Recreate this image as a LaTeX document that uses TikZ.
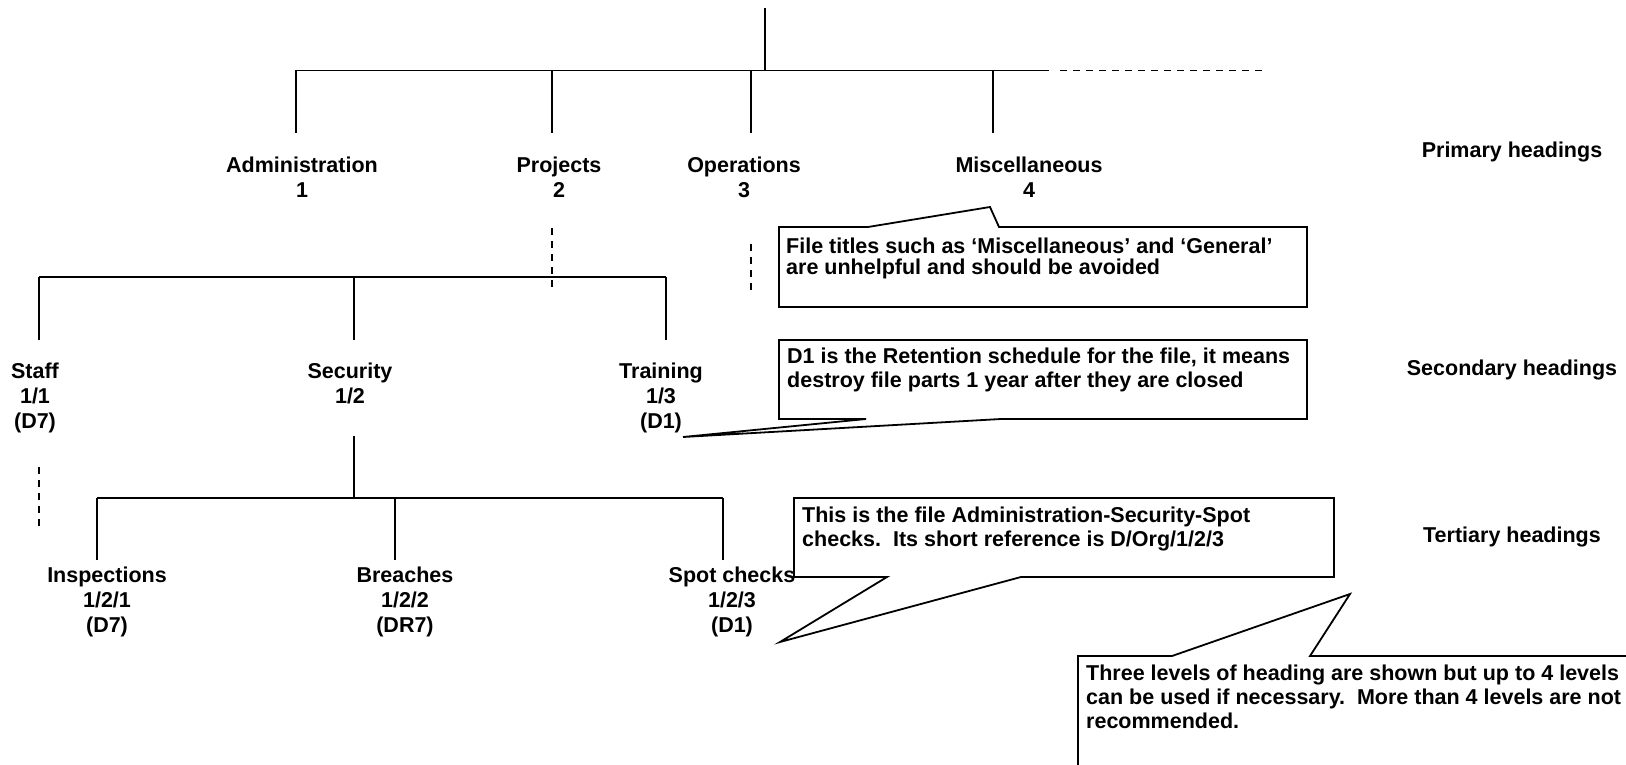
\documentclass[tikz,border=0pt]{standalone}
\usepackage{fontspec}
\setmainfont{Liberation Sans}
\begin{document}
\begin{tikzpicture}[x=1pt,y=-1pt,
  tree/.style={line width=1.4pt},
  dashtree/.style={line width=1.4pt, dash pattern=on 7pt off 6pt},
  lbl/.style={font=\fontsize{21.5}{25}\selectfont\bfseries, align=center, inner sep=0pt, anchor=base},
  note/.style={font=\fontsize{21.5}{24.5}\selectfont\bfseries, align=left, inner sep=0pt, anchor=base west},
  callout/.style={draw, line width=1.8pt, fill=white, line join=miter}]
\useasboundingbox (0,0) rectangle (1626,765);

% ---------- tree junctions ----------
\coordinate (root) at (765,8);
\coordinate (rootj) at (765,70.5);
\coordinate (p1) at (296,70.5);
\coordinate (p2) at (552,70.5);
\coordinate (p3) at (751,70.5);
\coordinate (p4) at (993,70.5);
\coordinate (pend) at (1049,70.5);
\coordinate (pd1) at (1060,70.5);
\coordinate (pd2) at (1263,70.5);
\coordinate (p1b) at (296,133);
\coordinate (p2b) at (552,133);
\coordinate (p3b) at (751,133);
\coordinate (p4b) at (993,133);
\coordinate (p2d1) at (552,228);
\coordinate (p2d2) at (552,292);
\coordinate (p3d1) at (751,244);
\coordinate (p3d2) at (751,292);

\coordinate (s1) at (39,277);
\coordinate (s2) at (354,277);
\coordinate (s3) at (666,277);
\coordinate (s1b) at (39,340);
\coordinate (s2b) at (354,340);
\coordinate (s3b) at (666,340);
\coordinate (s1d1) at (39,467);
\coordinate (s1d2) at (39,529);
\coordinate (s2t) at (354,436);

\coordinate (t1) at (97,498);
\coordinate (t2) at (395,498);
\coordinate (t3) at (723,498);
\coordinate (t1b) at (97,560);
\coordinate (t2b) at (395,560);
\coordinate (t3b) at (723,560);

% ---------- tree lines ----------
\draw[tree] (root) -- (rootj);
\draw[tree] (p1) -- (pend);
\draw[dashtree] (pd1) -- (pd2);
\draw[tree] (p1) -- (p1b);
\draw[tree] (p2) -- (p2b);
\draw[tree] (p3) -- (p3b);
\draw[tree] (p4) -- (p4b);
\draw[dashtree] (p2d1) -- (p2d2);
\draw[dashtree] (p3d1) -- (p3d2);

\draw[tree] (s1) -- (s3);
\draw[tree] (s1) -- (s1b);
\draw[tree] (s2) -- (s2b);
\draw[tree] (s3) -- (s3b);
\draw[dashtree] (s1d1) -- (s1d2);
\draw[tree] (s2t) -- (t2 -| s2t);

\draw[tree] (t1) -- (t3);
\draw[tree] (t1) -- (t1b);
\draw[tree] (t2) -- (t2b);
\draw[tree] (t3) -- (t3b);

% ---------- labels (anchor = baseline of last line) ----------
\node[lbl] (adm) at (302,197) {Administration\\1};
\node[lbl] (proj) at (559,197) {Projects\\2};
\node[lbl] (ops) at (744,197) {Operations\\3};
\node[lbl] (misc) at (1029,197) {Miscellaneous\\4};

\node[lbl] (staff) at (35,428) {Staff\\1/1\\(D7)};
\node[lbl] (sec) at (350,403) {Security\\1/2};
\node[lbl] (trn) at (661,428) {Training\\1/3\\(D1)};

\node[lbl] (insp) at (107,632) {Inspections\\1/2/1\\(D7)};
\node[lbl] (brch) at (405,632) {Breaches\\1/2/2\\(DR7)};

\node[lbl] (hprim) at (1512,158) {Primary headings};
\node[lbl] (hsec) at (1512,375) {Secondary headings};
\node[lbl] (hter) at (1512,542) {Tertiary headings};

% ---------- callouts ----------
\draw[callout] (779,227) -- (868,227) -- (990,207) -- (999,227) -- (1307,227)
  -- (1307,307) -- (779,307) -- cycle;
\node[note, font=\fontsize{21.5}{21}\selectfont\bfseries] (n1) at (786,274)
  {File titles such as ‘Miscellaneous’ and ‘General’\\are unhelpful and should be avoided};

\draw[callout] (779,340) -- (1307,340) -- (1307,419) -- (1001,419) -- (683,437)
  -- (866,419) -- (779,419) -- cycle;
\node[note] (n2) at (787,387.5)
  {D1 is the Retention schedule for the file, it means\\destroy file parts 1 year after they are closed};

\draw[callout] (794,498) -- (1334,498) -- (1334,577) -- (1021,577) -- (780,642)
  -- (887,577) -- (794,577) -- cycle;
\node[note] (n3) at (802,546.5)
  {This is the file Administration-Security-Spot\\checks.\ \ Its short reference is D/Org/1/2/3};

\node[lbl] (spot) at (732,632) {Spot checks\\1/2/3\\(D1)};

\draw[callout] (1078,775) -- (1078,656) -- (1172,656) -- (1350,594) -- (1310,656)
  -- (1640,656) -- (1640,775) -- cycle;
\node[note, font=\fontsize{21.5}{24}\selectfont\bfseries] (n4) at (1086,728)
  {Three levels of heading are shown but up to 4 levels\\can be used if necessary.\ \ More than 4 levels are not\\recommended.};
\end{tikzpicture}
\end{document}
